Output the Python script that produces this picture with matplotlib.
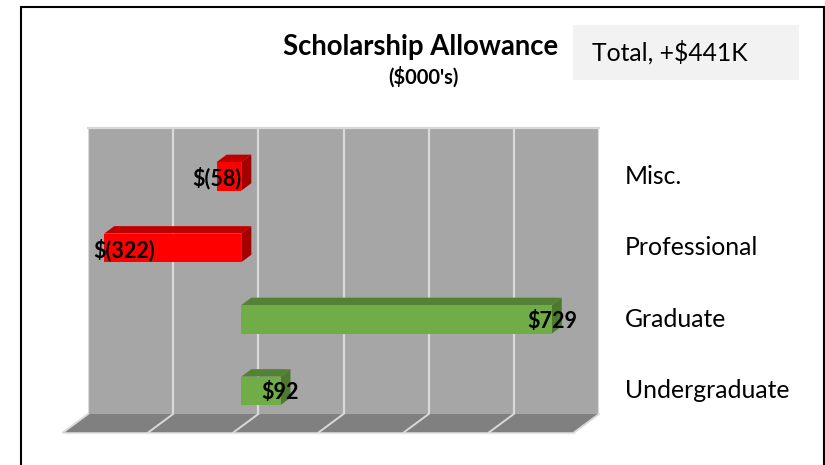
import matplotlib
matplotlib.use('Agg')
import matplotlib.pyplot as plt
from matplotlib.patches import Polygon, Rectangle

# chart data ($000's)
categories = ['Undergraduate', 'Graduate', 'Professional', 'Misc.']
values = [92, 729, -322, -58]
value_labels = ['$92', '$729', '$(322)', '$(58)']
grid_ticks = [-400, -200, 0, 200, 400, 600, 800]
title = 'Scholarship Allowance'
subtitle = "($000's)"
total_text = 'Total, +$441K'

W, H = 825, 465
plt.rcParams['font.family'] = ['Lato', 'DejaVu Sans']

fig = plt.figure(figsize=(W / 100, H / 100), dpi=100)
ax = fig.add_axes([88 / W, 1 - 414 / H, 511 / W, 286 / H])
ax.set_xlim(grid_ticks[0], grid_ticks[-1])
ax.set_ylim(-0.5, len(categories) - 0.5)
ax.axis('off')


def off(x, y, dx, dy):
    # data point pushed by dx px right and dy px down (3d depth)
    px, py = ax.transData.transform((x, y))
    return ax.transData.inverted().transform((px + dx, py - dy))


xmin, xmax = grid_ticks[0], grid_ticks[-1]
ylo, yhi = -0.5, len(categories) - 0.5

# back wall
ax.add_patch(Rectangle((xmin, ylo), xmax - xmin, yhi - ylo, fc='#a6a6a6', ec='none', zorder=0))
ax.vlines(grid_ticks, ylo, yhi, color='#d9d9d9', lw=1.6, zorder=1)
ax.plot([xmin, xmax], [yhi, yhi], color='#d9d9d9', lw=1.6, zorder=1, clip_on=False)

# floor
fdx, fdy = -25, 18.5
floor = [off(xmin, ylo, 0, 0), off(xmax, ylo, 0, 0), off(xmax, ylo, fdx, fdy), off(xmin, ylo, fdx, fdy)]
ax.add_patch(Polygon(floor, closed=True, fc='#808080', ec='none', zorder=2, clip_on=False))
for t in grid_ticks:
    a, b = off(t, ylo, 0, 0), off(t, ylo, fdx, fdy)
    ax.plot([a[0], b[0]], [a[1], b[1]], color='#d9d9d9', lw=1.4, zorder=3, clip_on=False)
fa, fb = off(xmin, ylo, fdx, fdy), off(xmax, ylo, fdx, fdy)
ax.plot([fa[0], fb[0]], [fa[1], fb[1]], color='#e6e6e6', lw=1.0, zorder=3, clip_on=False)

# 3d bars
front = (-17, 12.6)
back = (-7, 5.2)
bh = 0.4
for i, v in enumerate(values):
    if v >= 0:
        cf, ct, cs = '#70ad47', '#548235', '#4e7a2f'
    else:
        cf, ct, cs = '#ff0000', '#c00000', '#a50000'
    x0, x1 = min(0, v), max(0, v)
    y0, y1 = i - bh / 2, i + bh / 2
    f_bl, f_br = off(x0, y0, *front), off(x1, y0, *front)
    f_tl, f_tr = off(x0, y1, *front), off(x1, y1, *front)
    b_br = off(x1, y0, *back)
    b_tl, b_tr = off(x0, y1, *back), off(x1, y1, *back)
    ax.add_patch(Polygon([f_tl, f_tr, b_tr, b_tl], fc=ct, ec='none', zorder=5, clip_on=False))
    ax.add_patch(Polygon([f_tr, f_br, b_br, b_tr], fc=cs, ec='none', zorder=5, clip_on=False))
    ax.add_patch(Polygon([f_bl, f_br, f_tr, f_tl], fc=cf, ec='none', zorder=6, clip_on=False))

# value labels, centred on the bar end, kept inside the wall
renderer = fig.canvas.get_renderer()
wall_left = ax.transData.transform((xmin, 0))[0]
for i, (v, lab) in enumerate(zip(values, value_labels)):
    p = off(v, i, front[0], front[1] + 2)
    txt = ax.text(p[0], p[1], lab, ha='center', va='center', fontsize=15.5,
                  fontweight='bold', color='black', zorder=8, clip_on=False)
    bb = txt.get_window_extent(renderer)
    if bb.x0 < wall_left + 5:
        q = ax.transData.inverted().transform((wall_left + 5, 0))
        txt.set_x(q[0])
        txt.set_ha('left')

# category labels on the right
for i, c in enumerate(categories):
    p = off(xmax, i, 26, front[1])
    ax.text(p[0], p[1], c, ha='left', va='center', fontsize=17.8, color='black', clip_on=False)

# titles
fig.text(421 / W, 1 - 47 / H, title, ha='center', va='center', fontsize=19.8, fontweight='bold')
fig.text(423 / W, 1 - 77 / H, subtitle, ha='center', va='center', fontsize=14.5, fontweight='bold')

# total box
fig.patches.append(Rectangle((573 / W, 1 - 80 / H), 226 / W, 55 / H, transform=fig.transFigure,
                             fc='#f2f2f2', ec='none', zorder=0))
fig.text(592 / W, 1 - 52 / H, total_text, ha='left', va='center', fontsize=17.8)

# outer border
fig.patches.append(Rectangle((21 / W, -0.02), 802.5 / W, 1.02 - 6.7 / H, transform=fig.transFigure,
                             fill=False, ec='black', lw=1.5, zorder=10))

fig.savefig('out.png', dpi=100)
